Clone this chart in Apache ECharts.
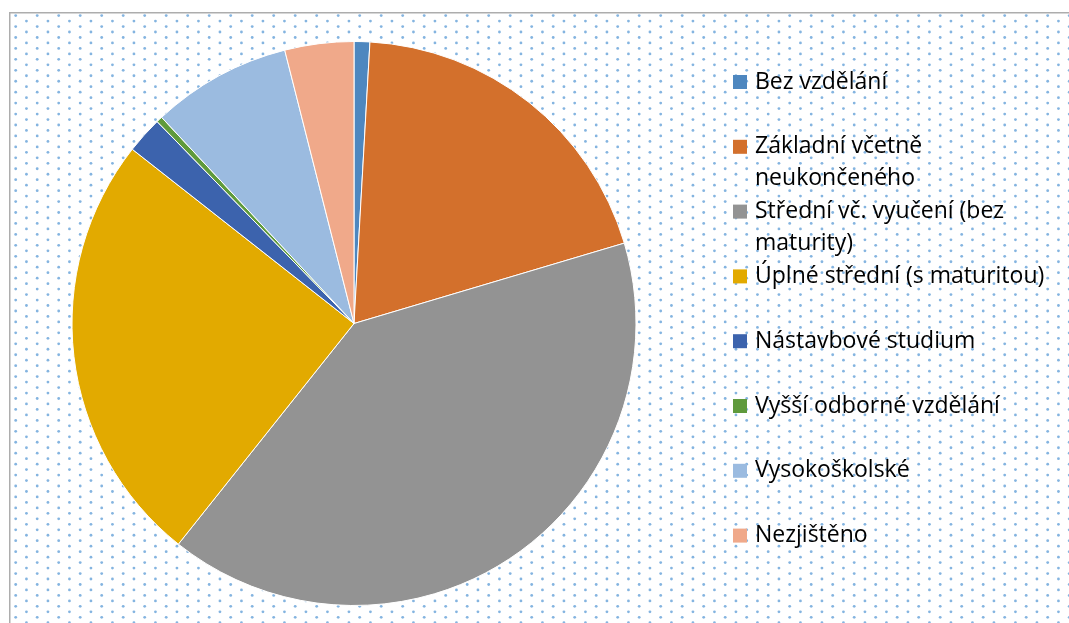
<!DOCTYPE html>
<html>
<head>
<meta charset="utf-8">
<script src="https://cdn.jsdelivr.net/npm/echarts@6/dist/echarts.min.js"></script>
<style>
  html, body { margin: 0; padding: 0; background: #fff; }
  #bg { position: absolute; left: 0; top: 0; }
  #chart { position: absolute; left: 0; top: 0; width: 1069px; height: 623px; }
</style>
</head>
<body>
<canvas id="bg" width="1069" height="623"></canvas>
<div id="chart"></div>
<script>
// data (shares in %)
const categories = [
  'Bez vzdělání',
  'Základní včetně neukončeného',
  'Střední vč. vyučení (bez maturity)',
  'Úplné střední (s maturitou)',
  'Nástavbové studium',
  'Vyšší odborné vzdělání',
  'Vysokoškolské',
  'Nezjištěno'
];
const shares = [0.9, 19.5, 40.3, 24.9, 2.1, 0.35, 8.0, 3.95];
// how the legend text wraps in the original
const legendText = [
  'Bez vzdělání',
  'Základní včetně\nneukončeného',
  'Střední vč. vyučení (bez\nmaturity)',
  'Úplné střední (s maturitou)',
  'Nástavbové studium',
  'Vyšší odborné vzdělání',
  'Vysokoškolské',
  'Nezjištěno'
];
const colors = ['#4e87bf', '#d3702c', '#939393', '#e2aa00', '#3c63ad', '#5f9a3c', '#9bbbe0', '#f0a98a'];

// dotted chart-area background + frame
function drawBackground() {
  const cv = document.getElementById('bg');
  const ctx = cv.getContext('2d');
  ctx.fillStyle = '#fff';
  ctx.fillRect(0, 0, cv.width, cv.height);
  ctx.fillStyle = 'rgba(91,155,213,0.75)';
  for (let r = 0; ; r++) {
    const y = 15.6 + r * 5.47;
    if (y > cv.height + 2) break;
    const x0 = 15.7 + (r % 2) * 10.75;
    for (let x = x0; x < cv.width + 2; x += 21.5) {
      ctx.beginPath();
      ctx.arc(x, y, 1.4, 0, Math.PI * 2);
      ctx.fill();
    }
  }
  ctx.fillStyle = '#adadad';
  ctx.fillRect(9, 12, cv.width - 9, 1.5);
  ctx.fillRect(9, 12, 1.5, cv.height - 12);
}
drawBackground();

const chart = echarts.init(document.getElementById('chart'));

const fontFamily = '"Open Sans"';
const lineH = 32;
const firstIcon = 82;   // centre of the first legend square
const step = 64.8;

// every entry becomes 3 lines: blank, first line, second line (or blank),
// so the first line lands on the square and all blocks have the same height
function legendLabel(i) {
  const parts = legendText[i].split('\n');
  return ' \n' + parts[0] + '\n' + (parts[1] || ' ');
}

// one legend block per entry so every row sits at its own slot
const legends = categories.map((name, i) => ({
  data: [name],
  orient: 'vertical',
  left: 733,
  top: firstIcon + step * i - lineH * 1.5,
  padding: 0,
  icon: 'rect',
  itemWidth: 14,
  itemHeight: 14,
  itemStyle: { borderWidth: 0 },
  selectedMode: false,
  formatter: () => legendLabel(i),
  textStyle: {
    fontFamily: fontFamily,
    fontSize: 23,
    color: '#000',
    lineHeight: lineH,
    padding: [0, 0, 0, 3]
  }
}));

const option = {
  animation: false,
  color: colors,
  legend: legends,
  series: [
    {
      type: 'pie',
      center: [354, 323.5],
      radius: 282,
      startAngle: 90,
      clockwise: true,
      label: { show: false },
      labelLine: { show: false },
      emphasis: { disabled: true },
      itemStyle: { borderColor: '#fff', borderWidth: 1 },
      data: categories.map((name, i) => ({ name: name, value: shares[i] }))
    }
  ]
};

chart.setOption(option);
</script>
</body>
</html>
